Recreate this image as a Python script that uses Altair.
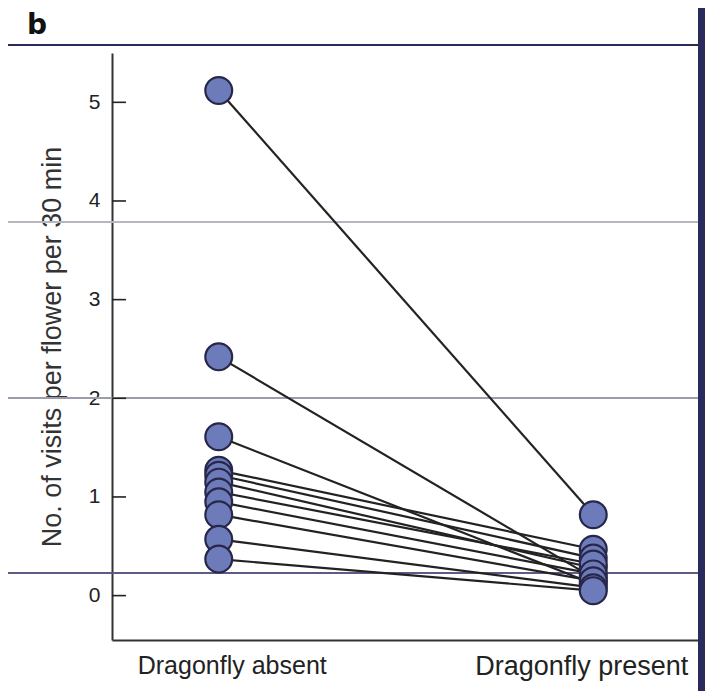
import altair as alt
import pandas as pd

# ---- data ----
conditions = ["Dragonfly absent", "Dragonfly present"]
absent = [5.12, 2.42, 1.61, 1.27, 1.22, 1.15, 1.05, 0.95, 0.82, 0.57, 0.37]
present = [0.82, 0.18, 0.12, 0.47, 0.38, 0.28, 0.32, 0.22, 0.15, 0.08, 0.05]
y_ticks = [0, 1, 2, 3, 4, 5]
panel_label = ["b"]

rows = []
for i, (a, p) in enumerate(zip(absent, present)):
    rows.append({"pair": i, "condition": conditions[0], "visits": a})
    rows.append({"pair": i, "condition": conditions[1], "visits": p})
df = pd.DataFrame(rows)
ticks_df = pd.DataFrame({"t": y_ticks})
label_df = pd.DataFrame({"label": panel_label})

FONT = "Liberation Sans"
NAVY = "#2b2a5c"
INK = "#222222"

W, H = 588, 587

is_absent = "datum.value == 'Dragonfly absent'"
x_enc = alt.X("condition:N", sort=conditions,
              scale=alt.Scale(type="point", padding=0.285),
              axis=alt.Axis(title=None, labelAngle=0, ticks=False, labelLimit=0,
                            labelFontSize={"condition": {"test": is_absent, "value": 25}, "value": 27},
                            labelOffset={"condition": {"test": is_absent, "value": 13}, "value": -12},
                            labelFont=FONT, labelColor=INK,
                            labelPadding=13, domainColor="#333333", domainWidth=2))
y_scale = alt.Scale(domain=[-0.45, 5.5], nice=False, zero=False)
y_enc = alt.Y("visits:Q", scale=y_scale,
              axis=alt.Axis(title="No. of visits per flower per 30 min",
                            values=y_ticks, format="d", grid=False, ticks=False,
                            labelFontSize=21, labelFont=FONT, labelColor=INK,
                            labelPadding=12, titleFont=FONT, titleFontSize=27,
                            titleFontWeight="normal", titleColor="#333333",
                            titlePadding=22, domainColor="#333333", domainWidth=2))

base = alt.Chart(df)

lines = base.mark_line(color=INK, strokeWidth=2.2).encode(
    x=x_enc, y=y_enc, detail="pair:N")

points = base.mark_point(filled=True, shape="circle", size=720, fill="#6e7bbb",
                         stroke="#27274a", strokeWidth=2.2, opacity=1).encode(
    x=x_enc, y=y_enc)

inner_ticks = alt.Chart(ticks_df).mark_rule(color=INK, strokeWidth=1.6).encode(
    y=alt.Y("t:Q", scale=y_scale), x=alt.value(0), x2=alt.value(14))

# decorative frame of the scanned panel
header_line = alt.Chart(ticks_df).mark_rule(color=NAVY, strokeWidth=1.5).encode(
    x=alt.value(-104), x2=alt.value(590), y=alt.value(-8))
scan_line1 = alt.Chart(ticks_df).mark_rule(color="#b5b5c0", strokeWidth=1).encode(
    x=alt.value(-104), x2=alt.value(590), y=alt.value(169))
scan_line2 = alt.Chart(ticks_df).mark_rule(color="#9a9aaa", strokeWidth=1).encode(
    x=alt.value(-104), x2=alt.value(590), y=alt.value(345))
scan_line3 = alt.Chart(ticks_df).mark_rule(color="#5a5a85", strokeWidth=1).encode(
    x=alt.value(-104), x2=alt.value(590), y=alt.value(520))
right_band = alt.Chart(ticks_df).mark_rect(color=NAVY).encode(
    x=alt.value(586), x2=alt.value(600), y=alt.value(-60), y2=alt.value(650))

panel_text = alt.Chart(label_df).mark_text(
    align="left", baseline="alphabetic", fontSize=28, fontWeight="bold",
    font="DejaVu Sans", color="#111111").encode(
    text="label:N", x=alt.value(-85), y=alt.value(-19))

chart = alt.layer(
    scan_line1, scan_line2, scan_line3, header_line,
    inner_ticks, lines, points, right_band, panel_text
).properties(
    width=W, height=H,
    autosize=alt.AutoSizeParams(type="none"),
    padding={"left": 104, "top": 45, "right": 5, "bottom": 51},
    background="white",
).configure_view(stroke=None)

chart.save("out.html", embed_options={"renderer": "svg", "actions": False})
